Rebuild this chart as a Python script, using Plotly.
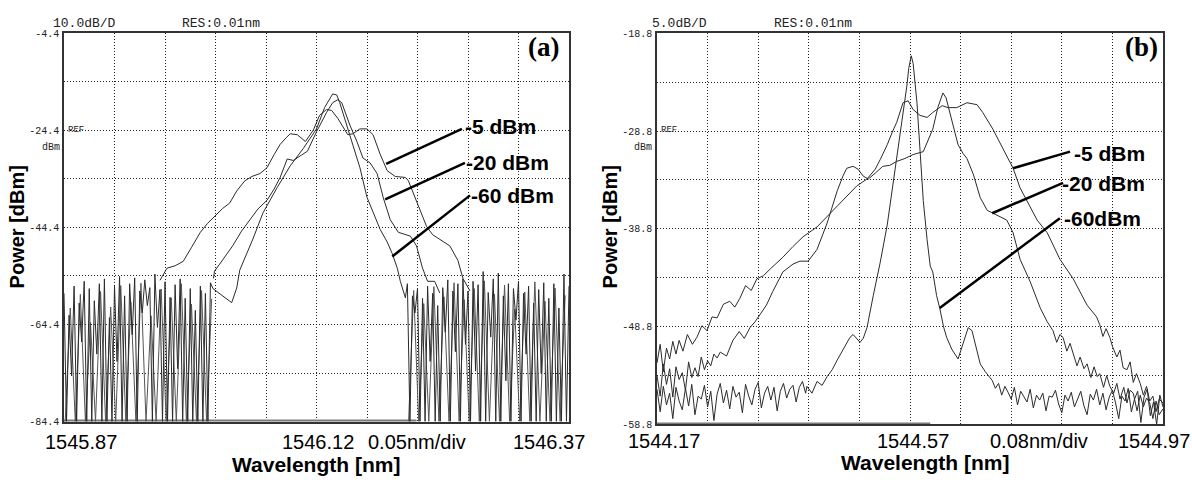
import plotly.graph_objects as go

W, H = 1192, 491

# ---------------- Panel (a) data ----------------
a_grid_x = [1545.87, 1545.92, 1545.97, 1546.02, 1546.07, 1546.12, 1546.17, 1546.22, 1546.27, 1546.32, 1546.37]
a_grid_y = [-4.4, -14.4, -24.4, -34.4, -44.4, -54.4, -64.4, -74.4, -84.4]
a_tick_text = ["-4.4", "", "-24.4", "", "-44.4", "", "-64.4", "", "-84.4"]

a5_x = [1545.965, 1545.972, 1545.980, 1545.988, 1545.996, 1546.005, 1546.012, 1546.019, 1546.027, 1546.034,
        1546.041, 1546.049, 1546.056, 1546.064, 1546.071, 1546.078, 1546.084, 1546.090, 1546.094, 1546.101,
        1546.109, 1546.117, 1546.123, 1546.130, 1546.135, 1546.141, 1546.146, 1546.151, 1546.156, 1546.163,
        1546.170, 1546.176, 1546.183, 1546.190, 1546.198, 1546.208, 1546.211, 1546.219, 1546.229, 1546.235,
        1546.242, 1546.252, 1546.260, 1546.265, 1546.272]
a5_y = [-55.3, -52.8, -52.3, -51.4, -48.6, -45.4, -43.6, -42.2, -40.5, -39.4,
        -36.9, -34.8, -33.9, -33.3, -32.1, -29.4, -27.3, -25.9, -25.1, -25.3,
        -26.7, -24.3, -21.3, -20.1, -20.3, -21.9, -23.7, -25.3, -25.1, -24.1,
        -24.1, -25.3, -29.3, -32.7, -33.9, -34.1, -34.8, -38.8, -44.2, -45.9,
        -46.8, -48.2, -51.2, -54.9, -57.5]

a20_x = [1546.018, 1546.019, 1546.024, 1546.028, 1546.037, 1546.046, 1546.054, 1546.062, 1546.071, 1546.078,
         1546.084, 1546.091, 1546.097, 1546.101, 1546.111, 1546.120, 1546.130, 1546.136, 1546.141, 1546.145,
         1546.153, 1546.160, 1546.166, 1546.173, 1546.180, 1546.186, 1546.193, 1546.201, 1546.213, 1546.219,
         1546.225, 1546.230, 1546.237, 1546.242]
a20_y = [-54.9, -53.4, -52.0, -50.8, -48.2, -45.1, -42.8, -40.6, -38.8, -36.5,
         -34.1, -30.3, -30.6, -30.1, -28.7, -24.7, -20.7, -18.7, -18.1, -18.7,
         -23.3, -26.7, -30.1, -31.1, -33.3, -38.2, -42.8, -45.4, -46.2, -48.2,
         -52.8, -55.5, -55.5, -57.9]

a60_x = [1546.036, 1546.041, 1546.044, 1546.051, 1546.057, 1546.067, 1546.081, 1546.094, 1546.107, 1546.120,
         1546.128, 1546.136, 1546.140, 1546.143, 1546.153, 1546.163, 1546.170, 1546.175, 1546.183, 1546.190,
         1546.195, 1546.200, 1546.203, 1546.208]
a60_y = [-59.9, -56.9, -53.2, -49.8, -46.8, -41.4, -36.2, -31.7, -28.1, -24.1,
         -19.7, -16.9, -17.1, -18.7, -25.3, -32.1, -38.2, -40.8, -44.8, -47.4,
         -49.8, -52.8, -55.5, -58.9]

a_noise_left_x = [1545.8700, 1545.8725, 1545.8750, 1545.8775, 1545.8800, 1545.8825, 1545.8850, 1545.8875, 1545.8900, 1545.8925,
                  1545.8950, 1545.8975, 1545.9000, 1545.9025, 1545.9050, 1545.9075, 1545.9100, 1545.9125, 1545.9150, 1545.9175,
                  1545.9200, 1545.9225, 1545.9250, 1545.9275, 1545.9300, 1545.9325, 1545.9350, 1545.9375, 1545.9400, 1545.9425,
                  1545.9450, 1545.9475, 1545.9500, 1545.9525, 1545.9550, 1545.9575, 1545.9600, 1545.9625, 1545.9650, 1545.9675,
                  1545.9700, 1545.9725, 1545.9750, 1545.9775, 1545.9800, 1545.9825, 1545.9850, 1545.9875, 1545.9900, 1545.9925,
                  1545.9950, 1545.9975, 1546.0000, 1546.0025, 1546.0050, 1546.0075, 1546.0100, 1546.0125, 1546.0150, 1546.0175]
a_noise_left_y = [-58.0, -84.4, -62.5, -75.0, -56.5, -84.4, -60.0, -68.0, -55.5, -84.4,
                  -57.0, -84.4, -59.5, -70.5, -56.0, -84.4, -55.0, -84.4, -63.0, -84.4,
                  -56.5, -72.0, -54.5, -84.4, -58.5, -84.4, -56.0, -66.5, -54.8, -84.4,
                  -57.5, -62.0, -55.2, -60.5, -56.8, -84.4, -54.0, -65.0, -57.2, -84.4,
                  -55.6, -84.4, -58.8, -84.4, -56.2, -73.5, -55.0, -84.4, -59.0, -84.4,
                  -57.0, -84.4, -61.5, -84.4, -56.5, -84.4, -58.0, -84.4, -55.8, -57.0]

# second noise sweep, interleaved between the first one
a_noise2_left_x = [1545.8712, 1545.8762, 1545.8812, 1545.8862, 1545.8912, 1545.8962, 1545.9012, 1545.9062, 1545.9112, 1545.9162,
                   1545.9212, 1545.9262, 1545.9312, 1545.9362, 1545.9412, 1545.9462, 1545.9512, 1545.9562, 1545.9612, 1545.9662,
                   1545.9712, 1545.9762, 1545.9812, 1545.9862, 1545.9912, 1545.9962, 1546.0012, 1546.0062, 1546.0112, 1546.0162]
a_noise2_left_y = [-84.4, -61.0, -84.4, -58.2, -84.4, -64.0, -84.4, -57.6, -84.4, -60.8,
                   -84.4, -56.4, -84.4, -59.8, -84.4, -55.9, -84.4, -62.6, -84.4, -57.1,
                   -84.4, -58.9, -84.4, -56.0, -84.4, -60.2, -84.4, -57.4, -84.4, -59.1]

a_noise_right_x = [1546.2100, 1546.2125, 1546.2150, 1546.2175, 1546.2200, 1546.2225, 1546.2250, 1546.2275, 1546.2300, 1546.2325,
                   1546.2350, 1546.2375, 1546.2400, 1546.2425, 1546.2450, 1546.2475, 1546.2500, 1546.2525, 1546.2550, 1546.2575,
                   1546.2600, 1546.2625, 1546.2650, 1546.2675, 1546.2700, 1546.2725, 1546.2750, 1546.2775, 1546.2800, 1546.2825,
                   1546.2850, 1546.2875, 1546.2900, 1546.2925, 1546.2950, 1546.2975, 1546.3000, 1546.3025, 1546.3050, 1546.3075,
                   1546.3100, 1546.3125, 1546.3150, 1546.3175, 1546.3200, 1546.3225, 1546.3250, 1546.3275, 1546.3300, 1546.3325,
                   1546.3350, 1546.3375, 1546.3400, 1546.3425, 1546.3450, 1546.3475, 1546.3500, 1546.3525, 1546.3550, 1546.3575,
                   1546.3600, 1546.3625, 1546.3650, 1546.3675, 1546.3700]
a_noise_right_y = [-56.0, -84.4, -58.5, -62.0, -57.0, -84.4, -59.0, -84.4, -56.5, -72.0,
                   -58.0, -84.4, -60.5, -84.4, -56.8, -66.0, -55.2, -84.4, -57.5, -70.0,
                   -56.0, -84.4, -55.0, -68.5, -57.5, -84.4, -55.5, -74.0, -56.2, -84.4,
                   -53.5, -84.4, -57.8, -67.0, -55.0, -84.4, -53.8, -84.4, -58.5, -76.0,
                   -56.0, -84.4, -57.0, -63.5, -55.5, -84.4, -58.0, -70.5, -56.5, -84.4,
                   -60.0, -84.4, -57.2, -74.5, -55.8, -84.4, -59.0, -84.4, -56.0, -84.4,
                   -61.0, -84.4, -54.0, -84.4, -56.5]

a_noise2_right_x = [1546.2112, 1546.2162, 1546.2212, 1546.2262, 1546.2312, 1546.2362, 1546.2412, 1546.2462, 1546.2512, 1546.2562,
                    1546.2612, 1546.2662, 1546.2712, 1546.2762, 1546.2812, 1546.2862, 1546.2912, 1546.2962, 1546.3012, 1546.3062,
                    1546.3112, 1546.3162, 1546.3212, 1546.3262, 1546.3312, 1546.3362, 1546.3412, 1546.3462, 1546.3512, 1546.3562,
                    1546.3612, 1546.3662]
a_noise2_right_y = [-84.4, -57.4, -84.4, -60.1, -84.4, -56.6, -84.4, -58.7, -84.4, -55.8,
                    -84.4, -59.3, -84.4, -57.0, -84.4, -55.4, -84.4, -58.1, -84.4, -56.3,
                    -84.4, -61.2, -84.4, -57.7, -84.4, -55.6, -84.4, -59.6, -84.4, -56.9,
                    -84.4, -58.4]

a_floor_x = [1545.87, 1546.219]
a_floor_y = [-84.4, -84.4]

# ---------------- Panel (b) data ----------------
b_grid_x = [1544.17, 1544.25, 1544.33, 1544.41, 1544.49, 1544.57, 1544.65, 1544.73, 1544.81, 1544.89, 1544.97]
b_grid_y = [-18.8, -23.8, -28.8, -33.8, -38.8, -43.8, -48.8, -53.8, -58.8]
b_tick_text = ["-18.8", "", "-28.8", "", "-38.8", "", "-48.8", "", "-58.8"]

b5_noise_x = [1544.170, 1544.175, 1544.180, 1544.185, 1544.190, 1544.195, 1544.200]
b5_noise_y = [-52.5, -50.6, -53.4, -51.0, -52.1, -50.3, -51.6]
b5_x = [1544.205, 1544.211, 1544.218, 1544.226, 1544.233, 1544.241, 1544.249, 1544.257, 1544.265, 1544.275,
        1544.285, 1544.293, 1544.301, 1544.310, 1544.319, 1544.328, 1544.338, 1544.349, 1544.369, 1544.385,
        1544.401, 1544.423, 1544.444, 1544.464, 1544.486, 1544.502, 1544.515, 1544.523, 1544.534, 1544.542,
        1544.549, 1544.559, 1544.567, 1544.575, 1544.586, 1544.597, 1544.606, 1544.621, 1544.630, 1544.644,
        1544.660, 1544.676, 1544.685, 1544.701, 1544.717, 1544.733, 1544.744, 1544.760, 1544.771, 1544.787,
        1544.807, 1544.828, 1544.850, 1544.865]
b5_y = [-50.2, -51.3, -49.6, -50.6, -49.9, -48.7, -49.2, -47.8, -47.9, -46.5,
        -46.2, -46.8, -45.9, -44.6, -45.1, -43.9, -43.6, -42.9, -41.7, -40.6,
        -39.6, -38.6, -37.2, -35.9, -34.4, -33.7, -32.7, -31.7, -30.2, -28.9,
        -27.9, -25.9, -25.7, -26.6, -27.2, -27.4, -26.9, -26.2, -26.4, -26.4,
        -25.9, -26.1, -26.9, -28.6, -30.6, -32.6, -34.6, -36.6, -37.9, -39.2,
        -41.9, -43.9, -46.6, -47.8]
b5_tail_x = [1544.870, 1544.875, 1544.880, 1544.886, 1544.890, 1544.897, 1544.902, 1544.907, 1544.913, 1544.918,
             1544.923, 1544.928, 1544.934, 1544.939, 1544.944, 1544.949, 1544.954, 1544.959, 1544.964, 1544.970]
b5_tail_y = [-48.6, -49.8, -49.0, -49.9, -50.8, -51.9, -51.2, -53.0, -53.2, -52.4,
             -54.5, -53.6, -54.6, -55.8, -54.9, -56.4, -55.9, -57.5, -56.2, -56.6]

b20_noise_x = [1544.170, 1544.175, 1544.180, 1544.185, 1544.190, 1544.195, 1544.200, 1544.205, 1544.210, 1544.215,
               1544.220, 1544.225, 1544.230, 1544.235, 1544.240, 1544.245, 1544.250, 1544.255, 1544.260, 1544.265]
b20_noise_y = [-53.8, -55.9, -52.6, -54.7, -53.1, -56.0, -52.9, -54.2, -53.5, -55.3,
               -52.4, -54.0, -53.0, -53.9, -51.9, -53.2, -52.3, -52.8, -51.6, -52.0]
b20_x = [1544.270, 1544.280, 1544.290, 1544.300, 1544.308, 1544.317, 1544.325, 1544.333, 1544.343, 1544.353,
         1544.369, 1544.385, 1544.396, 1544.409, 1544.423, 1544.439, 1544.455, 1544.464, 1544.470, 1544.480,
         1544.488, 1544.496, 1544.504, 1544.515, 1544.527, 1544.538, 1544.549, 1544.562, 1544.575, 1544.591,
         1544.598, 1544.606, 1544.614, 1544.622, 1544.627, 1544.630, 1544.638, 1544.646, 1544.654, 1544.660,
         1544.670, 1544.681, 1544.692, 1544.701, 1544.717, 1544.723, 1544.733, 1544.744, 1544.760, 1544.776,
         1544.787]
b20_y = [-51.4, -51.8, -50.2, -49.3, -50.0, -48.9, -48.3, -47.6, -46.6, -45.2,
         -43.2, -42.4, -42.1, -42.1, -40.9, -38.2, -34.9, -33.4, -32.6, -32.4,
         -32.7, -33.4, -33.7, -33.1, -32.4, -32.3, -31.9, -31.6, -31.2, -30.9,
         -29.9, -28.6, -26.4, -24.9, -25.4, -26.2, -28.2, -30.2, -31.1, -31.6,
         -33.2, -35.6, -36.9, -37.2, -37.7, -37.9, -39.2, -41.9, -44.2, -46.9,
         -48.3]
b20_tail_x = [1544.796, 1544.802, 1544.807, 1544.812, 1544.818, 1544.823, 1544.828, 1544.834, 1544.839, 1544.845,
              1544.850, 1544.856, 1544.861, 1544.866, 1544.870, 1544.876, 1544.881, 1544.886, 1544.892, 1544.897,
              1544.902, 1544.908, 1544.913, 1544.918, 1544.923, 1544.929, 1544.934, 1544.939, 1544.944, 1544.949,
              1544.954, 1544.959, 1544.964, 1544.970]
b20_tail_y = [-49.2, -50.4, -49.6, -49.9, -51.3, -50.5, -51.6, -52.8, -51.9, -53.1,
              -52.6, -54.0, -52.9, -53.9, -53.6, -55.0, -53.8, -54.9, -55.6, -54.6,
              -56.2, -55.0, -56.6, -55.3, -55.6, -57.4, -55.8, -57.0, -56.1, -56.6,
              -58.2, -56.4, -57.8, -57.2]

b60_noise_left_x = [1544.170, 1544.175, 1544.180, 1544.185, 1544.190, 1544.195, 1544.200, 1544.205, 1544.210, 1544.215,
                    1544.220, 1544.225, 1544.230, 1544.235, 1544.240, 1544.245, 1544.250, 1544.255, 1544.260, 1544.265,
                    1544.270, 1544.275, 1544.280, 1544.285, 1544.290, 1544.295, 1544.300, 1544.305, 1544.310, 1544.315,
                    1544.320, 1544.325, 1544.330, 1544.335, 1544.340, 1544.345, 1544.350, 1544.355, 1544.360, 1544.365,
                    1544.370, 1544.375, 1544.380, 1544.385, 1544.390, 1544.395, 1544.400, 1544.405]
b60_noise_left_y = [-55.2, -57.5, -54.9, -56.8, -55.6, -58.2, -55.0, -56.4, -57.3, -55.1,
                    -56.9, -54.7, -57.8, -55.9, -56.2, -54.8, -57.0, -55.4, -58.4, -55.7,
                    -54.6, -56.6, -55.3, -57.2, -54.9, -56.0, -55.5, -57.6, -54.7, -55.9,
                    -56.8, -55.2, -54.5, -57.1, -55.6, -54.9, -56.3, -55.0, -57.4, -55.4,
                    -54.6, -56.1, -55.2, -54.8, -56.5, -55.0, -54.4, -55.6]
b60_x = [1544.407, 1544.415, 1544.423, 1544.431, 1544.439, 1544.447, 1544.455, 1544.467, 1544.475, 1544.480,
         1544.486, 1544.491, 1544.496, 1544.502, 1544.512, 1544.523, 1544.534, 1544.543, 1544.551, 1544.559,
         1544.565, 1544.568, 1544.572, 1544.575, 1544.578, 1544.581, 1544.586, 1544.591, 1544.597, 1544.602,
         1544.606, 1544.612, 1544.617, 1544.623, 1544.628, 1544.636, 1544.646, 1544.654, 1544.662, 1544.668,
         1544.674, 1544.681, 1544.689, 1544.696]
b60_y = [-54.9, -55.6, -54.4, -54.8, -53.9, -53.2, -52.2, -50.9, -49.9, -49.6,
         -50.1, -50.4, -50.0, -48.9, -45.6, -42.2, -38.4, -34.2, -30.9, -26.9,
         -24.2, -22.4, -21.1, -21.9, -23.9, -25.9, -30.9, -35.9, -39.9, -42.6,
         -43.2, -45.6, -46.9, -48.8, -49.9, -51.1, -52.1, -50.4, -48.9, -49.2,
         -50.9, -52.6, -53.4, -53.9]
b60_noise_right_x = [1544.700, 1544.705, 1544.710, 1544.715, 1544.720, 1544.725, 1544.730, 1544.735, 1544.740, 1544.745,
                     1544.750, 1544.755, 1544.760, 1544.765, 1544.770, 1544.775, 1544.780, 1544.785, 1544.790, 1544.795,
                     1544.800, 1544.805, 1544.810, 1544.815, 1544.820, 1544.825, 1544.830, 1544.835, 1544.840, 1544.845,
                     1544.850, 1544.855, 1544.860, 1544.865, 1544.870, 1544.875, 1544.880, 1544.885, 1544.890, 1544.895,
                     1544.900, 1544.905, 1544.910, 1544.915, 1544.920, 1544.925, 1544.930, 1544.935, 1544.940, 1544.945,
                     1544.950, 1544.955, 1544.960, 1544.965, 1544.970]
b60_noise_right_y = [-54.3, -55.1, -54.6, -55.8, -54.9, -55.5, -56.2, -55.0, -56.8, -55.4,
                     -55.9, -56.5, -55.2, -57.1, -55.8, -56.3, -55.6, -57.4, -55.9, -56.0,
                     -55.3, -56.7, -57.6, -55.8, -56.4, -55.5, -57.0, -56.1, -55.4, -56.9,
                     -57.8, -55.7, -56.3, -55.2, -56.8, -55.6, -57.3, -56.0, -55.3, -56.6,
                     -58.2, -55.9, -56.4, -55.1, -57.5, -56.2, -55.4, -58.6, -56.0, -55.2,
                     -57.9, -56.5, -58.8, -55.8, -57.0]

b_floor_x = [1544.17, 1544.602]
b_floor_y = [-58.8, -58.8]

# leader lines (data coords: start on curve, end at label)
a_leaders = [((1546.189, -31.3), (1546.264, -24.1)),
             ((1546.188, -38.6), (1546.267, -31.1)),
             ((1546.195, -50.4), (1546.272, -37.8))]
a_labels = [("-5 dBm", 1546.265, -23.7), ("-20 dBm", 1546.266, -31.1), ("-60 dBm", 1546.271, -37.9)]
b_leaders = [((1544.733, -32.6), (1544.823, -30.9)),
             ((1544.700, -37.2), (1544.812, -34.1)),
             ((1544.617, -46.9), (1544.807, -37.7))]
b_labels = [("-5 dBm", 1544.826, -31.1), ("-20 dBm", 1544.807, -34.2), ("-60dBm", 1544.810, -37.7)]

# ---------------- Figure ----------------
fig = go.Figure()
trace_line = dict(color="#2b2b2b", width=1)

def add(x, y, xa, ya, line=trace_line):
    fig.add_trace(go.Scatter(x=x, y=y, mode="lines", line=line, xaxis=xa, yaxis=ya,
                             showlegend=False, hoverinfo="skip"))

floor_line = dict(color="#7a7a7a", width=4)
add(a_floor_x, a_floor_y, "x", "y", floor_line)
add(a_noise2_left_x, a_noise2_left_y, "x", "y", dict(color="#555555", width=1))
add(a_noise2_right_x, a_noise2_right_y, "x", "y", dict(color="#555555", width=1))
add(a_noise_left_x + a60_x + a_noise_right_x, a_noise_left_y + a60_y + a_noise_right_y, "x", "y")
add(a20_x, a20_y, "x", "y")
add(a5_x, a5_y, "x", "y")

add(b_floor_x, b_floor_y, "x2", "y2", floor_line)
add(b60_noise_left_x + b60_x + b60_noise_right_x, b60_noise_left_y + b60_y + b60_noise_right_y, "x2", "y2")
add(b20_noise_x + b20_x + b20_tail_x, b20_noise_y + b20_y + b20_tail_y, "x2", "y2")
add(b5_noise_x + b5_x + b5_tail_x, b5_noise_y + b5_y + b5_tail_y, "x2", "y2")

grid = dict(showgrid=True, griddash="1px,2px", gridcolor="#222222", gridwidth=1,
            showline=True, mirror=True, linecolor="#333333", linewidth=1.5,
            zeroline=False, ticks="")
tickfont = dict(family="Liberation Mono", size=10, color="#222")

fig.update_layout(
    width=W, height=H, margin=dict(l=0, r=0, t=0, b=0),
    paper_bgcolor="white", plot_bgcolor="white",
    xaxis=dict(domain=[64 / W, 569 / W], range=[a_grid_x[0], a_grid_x[-1]], tickvals=a_grid_x,
               showticklabels=False, anchor="y", **grid),
    yaxis=dict(domain=[1 - 427 / H, 1 - 29 / H], range=[a_grid_y[-1], a_grid_y[0]], tickvals=a_grid_y,
               ticktext=a_tick_text, tickfont=tickfont, ticklabelstandoff=1, anchor="x", **grid),
    xaxis2=dict(domain=[657 / W, 1163 / W], range=[b_grid_x[0], b_grid_x[-1]], tickvals=b_grid_x,
                showticklabels=False, anchor="y2", **grid),
    yaxis2=dict(domain=[1 - 430 / H, 1 - 29 / H], range=[b_grid_y[-1], b_grid_y[0]], tickvals=b_grid_y,
                ticktext=b_tick_text, tickfont=tickfont, ticklabelstandoff=1, anchor="x2", **grid),
)

shapes = []
for (x0, y0), (x1, y1) in a_leaders:
    shapes.append(dict(type="line", xref="x", yref="y", x0=x0, y0=y0, x1=x1, y1=y1,
                       line=dict(color="black", width=2.5)))
for (x0, y0), (x1, y1) in b_leaders:
    shapes.append(dict(type="line", xref="x2", yref="y2", x0=x0, y0=y0, x1=x1, y1=y1,
                       line=dict(color="black", width=2.5)))
fig.update_layout(shapes=shapes)

ann = []
lab_font = dict(family="Liberation Sans", size=21, color="black")
for t, x, y in a_labels:
    ann.append(dict(text="<b>%s</b>" % t, x=x, y=y, xref="x", yref="y", xanchor="left", yanchor="middle",
                    showarrow=False, font=lab_font))
for t, x, y in b_labels:
    ann.append(dict(text="<b>%s</b>" % t, x=x, y=y, xref="x2", yref="y2", xanchor="left", yanchor="middle",
                    showarrow=False, font=lab_font))

def ptext(text, px, py, size, family="Liberation Sans", xanchor="center", angle=0, color="black"):
    ann.append(dict(text=text, x=px / W, y=1 - py / H, xref="paper", yref="paper", xanchor=xanchor,
                    yanchor="middle", showarrow=False, textangle=angle,
                    font=dict(family=family, size=size, color=color)))

mono = "Liberation Mono"
# headers
ptext("10.0dB/D", 84, 19, 13, mono, color="#222")
ptext("RES:0.01nm", 221, 19, 13, mono, color="#222")
ptext("5.0dB/D", 679, 19, 13, mono, color="#222")
ptext("RES:0.01nm", 813, 19, 13, mono, color="#222")
# REF / dBm markers
ptext("REF", 66, 128, 9, mono, xanchor="left", color="#222")
ptext("dBm", 51, 146, 10, mono, color="#222")
ptext("REF", 659, 128, 9, mono, xanchor="left", color="#222")
ptext("dBm", 643, 146, 10, mono, color="#222")
# panel tags
ptext("<b>(a)</b>", 543, 43, 27, "Liberation Serif")
ptext("<b>(b)</b>", 1141, 43, 27, "Liberation Serif")
# y titles
ptext("<b>Power [dBm]</b>", 17, 228, 20, angle=-90)
ptext("<b>Power [dBm]</b>", 610, 228, 20, angle=-90)
# x labels
ptext("1545.87", 81, 448, 20)
ptext("1546.12", 318, 448, 20)
ptext("0.05nm/div", 417, 448, 20)
ptext("1546.37", 549, 448, 20)
ptext("<b>Wavelength [nm]</b>", 316, 471, 21)
ptext("1544.17", 664, 447, 20)
ptext("1544.57", 913, 447, 20)
ptext("0.08nm/div", 1039, 447, 20)
ptext("1544.97", 1154, 447, 20)
ptext("<b>Wavelength [nm]</b>", 925, 469, 21)
fig.update_layout(annotations=ann)

fig.write_html("out.html", config={"displayModeBar": False},
               post_script="document.body.style.margin='0';document.body.style.overflow='hidden';")
